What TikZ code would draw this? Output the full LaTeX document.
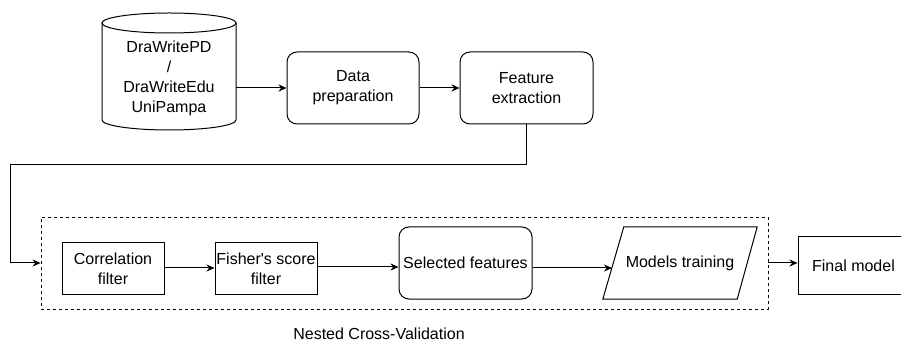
\documentclass[tikz,border=0pt]{standalone}
\usepackage{fontspec}
\setmainfont{Liberation Sans}
\usetikzlibrary{arrows.meta,calc}
\begin{document}
\begin{tikzpicture}[x=1pt,y=-1pt,
  every node/.style={font=\fontsize{16}{20}\selectfont, align=center, inner sep=0pt},
  rbox/.style={draw, line width=1pt, rounded corners=10pt},
  sbox/.style={draw, line width=1pt},
  arr/.style={line width=1pt, -{Stealth[length=8pt,width=7pt]}}]
\useasboundingbox (0,0) rectangle (901,344);
% cylinder
\node (db) [minimum width=134pt, minimum height=117pt] at (169,71.5) {};
\draw[line width=1pt] (102,23) -- (102,120) arc[start angle=180,end angle=360,x radius=67pt,y radius=10pt] -- (236,23);
\draw[line width=1pt] (169,23) ellipse[x radius=67pt, y radius=10pt];
\node (dbt) at (169,78) {DraWritePD\\/\\DraWriteEdu\\UniPampa};
% top row
\node (dp) [rbox, minimum width=132pt, minimum height=72pt] at (353,88) {Data\\preparation};
\node (fe) [rbox, minimum width=133pt, minimum height=72pt] at (526.5,88) {Feature\\extraction};
% nested CV
\node (cv) [draw, line width=0.9pt, dash pattern=on 3pt off 3pt, minimum width=727pt, minimum height=92pt] at (404.5,263) {};
\node (cvl) at (379,334) {Nested Cross-Validation};
\node (cf) [sbox, minimum width=102pt, minimum height=51pt] at (113,268.5) {Correlation\\filter};
\node (fs) [sbox, minimum width=102pt, minimum height=51pt] at (266,268.5) {Fisher\textquotesingle s score\\filter};
\node (sf) [rbox, minimum width=133pt, minimum height=72pt] at (465.5,263) {Selected features};
\node (mt) [minimum width=154pt, minimum height=72pt] at (680,263) {Models training};
\draw[line width=1pt] (mt.south west) -- ($(mt.north west)+(21,0)$) -- (mt.north east) -- ($(mt.south east)+(-20,0)$) -- cycle;
\coordinate (mtin) at (612,268);
\node (fm) [sbox, minimum width=111pt, minimum height=57pt] at (853.5,265.5) {Final model};
% connectors
\draw[arr] (db.east |- dp.west) -- (dp.west);
\draw[arr] (dp.east) -- (fe.west);
\coordinate (c1) at (10,165);
\draw[arr] (fe.south) |- (c1) |- (cv.west);
\draw[arr] (cf.east |- 0,268) -- (fs.west |- 0,268);
\draw[arr] (fs.east |- 0,267) -- (sf.west |- 0,267);
\draw[arr] (sf.east |- mtin) -- (mtin);
\draw[arr] (cv.east) -- (fm.west |- cv.east);
\end{tikzpicture}
\end{document}
